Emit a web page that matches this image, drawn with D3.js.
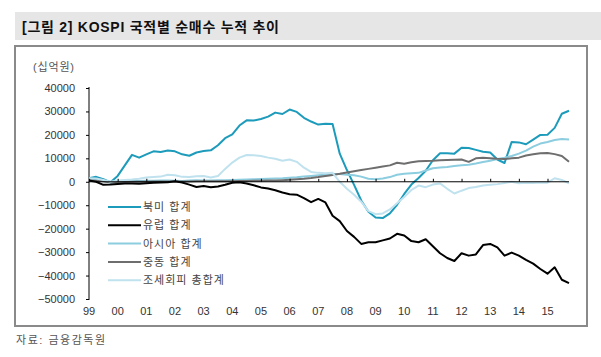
<!DOCTYPE html>
<html>
<head>
<meta charset="utf-8">
<script src="https://cdn.jsdelivr.net/npm/d3@7"></script>
<style>
  html, body { margin: 0; padding: 0; background: #fff; }
  text { font-family: 'Liberation Sans', 'Noto Sans CJK KR', sans-serif; }
</style>
</head>
<body>
<svg id="chart" width="601" height="357"></svg>
<script>
// ---- data (십억원), quarterly from 1999Q1 to 2015Q4 ----
const title = "[그림 2] KOSPI 국적별 순매수 누적 추이";
const unitLabel = "(십억원)";
const sourceLabel = "자료: 금융감독원";
const yTicks = [40000, 30000, 20000, 10000, 0, -10000, -20000, -30000, -40000, -50000];
const yearTicks = [1999,2000,2001,2002,2003,2004,2005,2006,2007,2008,2009,2010,2011,2012,2013,2014,2015];
const yearLabels = ["99","00","01","02","03","04","05","06","07","08","09","10","11","12","13","14","15"];
const seriesNames = ["북미 합계", "유럽 합계", "아시아 합계", "중동 합계", "조세회피 총합계"];
const seriesColors = ["#1d9bbb", "#000000", "#8dcde0", "#6e6e6e", "#bfe2ee"];

const quarters = d3.range(68).map(i => 1999 + i / 4);

const northAmerica = [
  1500, 2100, 1100, -200,
  2500, 7000, 11500, 10300,
  11700, 13000, 12700, 13300,
  13000, 11700, 11100, 12500,
  13100, 13400, 15600, 18600,
  20200, 24000, 26200, 26100,
  26800, 27800, 29500, 28900,
  30800, 29800, 27300, 25700,
  24400, 24700, 24600, 12000,
  5000, -1300, -8000, -12800,
  -15200, -15500, -13500, -9800,
  -5200, -1200, 1600, 4700,
  9200, 12200, 12200, 12000,
  14500, 14400, 13600, 12800,
  12500, 9500, 8000, 17000,
  16800, 16000, 18000, 20000,
  20100, 23000, 29000, 30300
];
const europe = [
  500, 0, -1300, -1200,
  -900, -700, -700, -800,
  -600, -400, -300, -200,
  200, -300, -1200, -2200,
  -1800, -2300, -2000, -1300,
  -400, -200, -700, -1500,
  -2400, -2900, -3600, -4600,
  -5300, -5500, -7000, -8700,
  -7300, -8800, -14500, -16800,
  -21000, -23500, -26500, -25800,
  -25800, -25000, -24200, -22200,
  -22900, -25300, -25800, -24500,
  -27500, -30500, -32500, -33800,
  -30500, -31500, -31000, -27000,
  -26500, -28000, -31500, -30200,
  -31500, -33300, -34900, -37200,
  -39200, -36500, -41800, -43200
];
const asia = [
  1000, 800, 300, -300,
  0, 200, 300, 300,
  400, 400, 500, 500,
  400, 300, 500, 600,
  500, 500, 600, 700,
  800, 900, 1000, 1100,
  1200, 1300, 1400, 1500,
  1700, 1900, 2200, 2500,
  2800, 3000, 3300, 3300,
  3000, 2800, 2200, 1300,
  1100, 1400, 2000, 3000,
  3400, 3600, 3800, 4800,
  5800, 6100, 6300, 6700,
  7000, 7300, 7800, 8400,
  9000, 9700, 10300, 11000,
  12000, 13300, 15000, 16300,
  17000, 17800, 18200, 18000
];
const middleEast = [
  700, 500, 200, -200,
  -200, -100, 0, 0,
  0, 100, 100, 100,
  100, 100, 100, 200,
  200, 200, 200, 200,
  200, 300, 300, 400,
  400, 500, 500, 700,
  900, 1100, 1300, 1600,
  2000, 2500, 2900, 3400,
  4000, 4500, 5000, 5500,
  6000, 6500, 7000, 8100,
  7700, 8300, 8800, 8900,
  9000, 9200, 9300, 9400,
  9500, 8500, 10000, 10200,
  10000, 9800, 9700, 10000,
  10300, 11200, 11700, 12200,
  12300, 11800, 11000, 8500
];
const taxHaven = [
  1500, 1400, 800, 0,
  500, 800, 1000, 1300,
  1800, 2000, 2200, 3000,
  2800, 2100, 2000, 2400,
  2500, 1800, 2500, 5500,
  8200, 10300, 11400, 11300,
  11000, 10300, 9800, 9000,
  9500, 8500, 6000, 4200,
  3800, 3600, 3800, 0,
  -3000, -5500, -8500, -12500,
  -13800, -13500, -11800, -9200,
  -6500, -3500, -1600, -2300,
  -1200, -700, -3000, -5000,
  -3800, -2700, -2200, -1600,
  -1300, -1000, -500, 0,
  -600, -400, -500, -300,
  -400, 1500, 800, -700
];
const seriesValues = [northAmerica, europe, asia, middleEast, taxHaven];

// ---- drawing ----
const svg = d3.select("#chart");
svg.append("rect").attr("width", 601).attr("height", 357).attr("fill", "#fff");

// title bar
svg.append("rect").attr("x", 15).attr("y", 12).attr("width", 586).attr("height", 28).attr("fill", "#e6e6e6");
svg.append("text").attr("x", 22).attr("y", 32).attr("font-size", 14).attr("font-weight", "bold")
  .attr("fill", "#111").attr("textLength", 257).attr("lengthAdjust", "spacing").text(title);

// frame
svg.append("rect").attr("x", 15).attr("y", 46).attr("width", 572).attr("height", 280)
  .attr("fill", "none").attr("stroke", "#8a8a8a").attr("stroke-width", 2);

const x = d3.scaleLinear().domain([1999, 2015.75]).range([89, 569]);
const y = d3.scaleLinear().domain([-50000, 40000]).range([299, 88]);

// unit label
svg.append("text").attr("x", 33).attr("y", 71).attr("font-size", 11).attr("fill", "#555")
  .attr("textLength", 41).attr("lengthAdjust", "spacing").text(unitLabel);

// y axis
const yAxis = d3.axisLeft(y).tickValues(yTicks).tickSize(3).tickFormat(d => d3.format("d")(d).replace("-", "\u2212"));
const gy = svg.append("g").attr("transform", "translate(89,0)").call(yAxis);
gy.select(".domain").attr("stroke", "#000").attr("d", `M0,${y(40000) - 1}V${y(-50000) + 1}`);
gy.selectAll(".tick line").attr("stroke", "#000");
gy.selectAll(".tick text").attr("x", -14).attr("font-size", 11).attr("fill", "#333")
  .attr("font-family", "'Liberation Sans', sans-serif");

// series lines
const line = d3.line().x((d, i) => x(quarters[i])).y(d => y(d));
const order = [0, 2, 3, 4, 1];
order.forEach(k => {
  svg.append("path").datum(seriesValues[k]).attr("d", line)
    .attr("fill", "none").attr("stroke", seriesColors[k]).attr("stroke-width", 2)
    .attr("stroke-linejoin", "round");
});

// x axis (zero line)
const xAxis = d3.axisTop(x).tickValues(yearTicks).tickSize(3).tickFormat("");
const gx = svg.append("g").attr("transform", `translate(0,${y(0)})`).call(xAxis);
gx.select(".domain").attr("stroke", "#000").attr("d", `M${x(1999)},0H${x(2015.75)}`);
gx.selectAll(".tick line").attr("stroke", "#000");

// x labels at bottom
svg.append("g").selectAll("text").data(yearTicks).join("text")
  .attr("x", d => x(d)).attr("y", 315).attr("text-anchor", "middle")
  .attr("font-size", 11).attr("fill", "#333").text((d, i) => yearLabels[i]);

// legend
const lg = svg.append("g");
seriesNames.forEach((name, i) => {
  const ly = 207 + i * 18.3;
  lg.append("line").attr("x1", 108).attr("x2", 141).attr("y1", ly).attr("y2", ly)
    .attr("stroke", seriesColors[i]).attr("stroke-width", 2);
  lg.append("text").attr("x", 143).attr("y", ly + 4).attr("font-size", 11).attr("fill", "#444")
    .attr("letter-spacing", 1).text(name);
});

// source
svg.append("text").attr("x", 16).attr("y", 344).attr("font-size", 11).attr("fill", "#555")
  .attr("textLength", 89).attr("lengthAdjust", "spacing").text(sourceLabel);
</script>
</body>
</html>
